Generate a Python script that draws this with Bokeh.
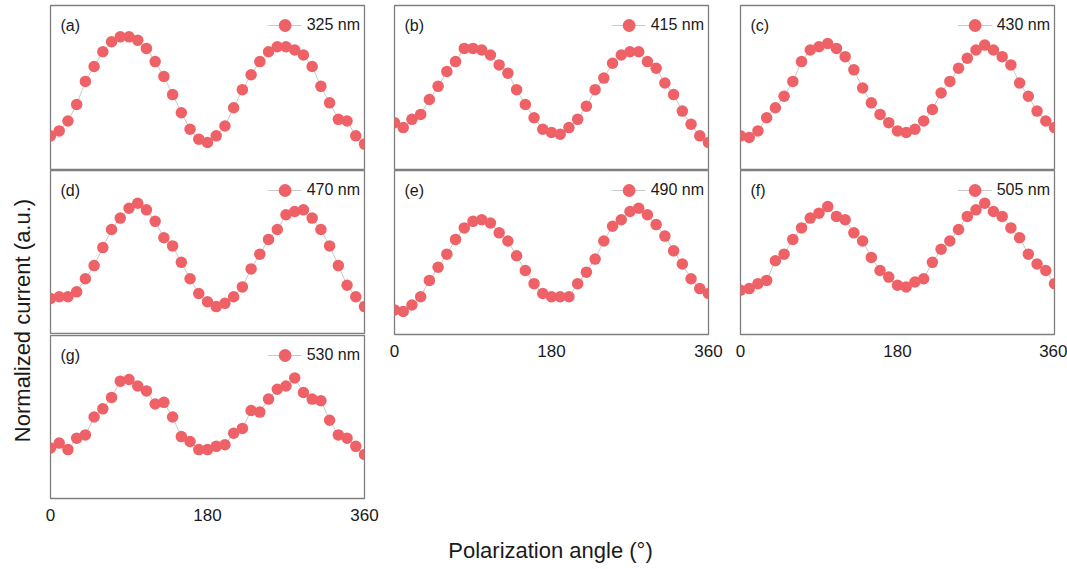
import math

from bokeh.embed import file_html
from bokeh.layouts import column, row
from bokeh.models import FixedTicker, Label, Legend, LegendItem, Range1d
from bokeh.plotting import figure
from bokeh.resources import INLINE

# Polarization angle (degrees), one sample every 10 degrees
angles = list(range(0, 361, 10))

# Normalized photocurrent for each excitation wavelength
i_325 = [0.21, 0.24, 0.30, 0.40, 0.54, 0.63, 0.72, 0.78, 0.81, 0.81, 0.79, 0.74, 0.66,
         0.57, 0.46, 0.35, 0.25, 0.19, 0.17, 0.21, 0.27, 0.38, 0.49, 0.58, 0.66, 0.72,
         0.75, 0.75, 0.73, 0.70, 0.63, 0.51, 0.41, 0.31, 0.30, 0.21, 0.16]
i_415 = [0.29, 0.26, 0.31, 0.34, 0.43, 0.51, 0.60, 0.66, 0.74, 0.74, 0.73, 0.70, 0.64,
         0.59, 0.49, 0.40, 0.32, 0.25, 0.23, 0.22, 0.26, 0.31, 0.39, 0.49, 0.56, 0.65,
         0.70, 0.72, 0.72, 0.66, 0.62, 0.53, 0.46, 0.36, 0.28, 0.21, 0.17]
i_430 = [0.21, 0.20, 0.24, 0.32, 0.38, 0.45, 0.54, 0.66, 0.73, 0.75, 0.77, 0.74, 0.69,
         0.61, 0.50, 0.41, 0.34, 0.29, 0.24, 0.23, 0.25, 0.30, 0.37, 0.47, 0.54, 0.62,
         0.68, 0.73, 0.76, 0.73, 0.69, 0.64, 0.53, 0.45, 0.36, 0.30, 0.26]
i_470 = [0.22, 0.23, 0.23, 0.26, 0.34, 0.42, 0.53, 0.64, 0.71, 0.77, 0.80, 0.76, 0.69,
         0.59, 0.54, 0.44, 0.34, 0.25, 0.20, 0.17, 0.19, 0.23, 0.29, 0.40, 0.49, 0.58,
         0.64, 0.73, 0.75, 0.76, 0.71, 0.64, 0.54, 0.42, 0.30, 0.23, 0.17]
i_490 = [0.15, 0.14, 0.18, 0.23, 0.33, 0.41, 0.49, 0.58, 0.65, 0.69, 0.70, 0.68, 0.62,
         0.57, 0.48, 0.39, 0.31, 0.25, 0.23, 0.23, 0.23, 0.31, 0.38, 0.46, 0.57, 0.66,
         0.70, 0.75, 0.77, 0.73, 0.67, 0.60, 0.51, 0.43, 0.34, 0.28, 0.25]
i_505 = [0.27, 0.28, 0.31, 0.33, 0.45, 0.49, 0.58, 0.65, 0.71, 0.74, 0.78, 0.72, 0.70,
         0.62, 0.57, 0.47, 0.39, 0.35, 0.30, 0.29, 0.32, 0.34, 0.44, 0.52, 0.57, 0.64,
         0.72, 0.76, 0.80, 0.75, 0.72, 0.65, 0.59, 0.49, 0.43, 0.39, 0.31]
i_530 = [0.31, 0.34, 0.30, 0.37, 0.39, 0.50, 0.55, 0.62, 0.72, 0.73, 0.69, 0.66, 0.58,
         0.59, 0.50, 0.38, 0.35, 0.30, 0.30, 0.32, 0.33, 0.40, 0.43, 0.54, 0.53, 0.61,
         0.67, 0.69, 0.74, 0.65, 0.61, 0.60, 0.48, 0.39, 0.37, 0.32, 0.27]

panel_tags = ["(a)", "(b)", "(c)", "(d)", "(e)", "(f)", "(g)"]
wavelengths = ["325 nm", "415 nm", "430 nm", "470 nm", "490 nm", "505 nm", "530 nm"]
series = [i_325, i_415, i_430, i_470, i_490, i_505, i_530]
x_ticks = [0, 180, 360]

FONT = "Liberation Sans"
DOT = "#EE6267"
TRACE = "#c8c8c8"
FRAME = "#7f7f7f"
INK = "#1a1a1a"


def panel(k, left, right, top, fh, with_axis):
    p = figure(
        frame_width=314, frame_height=fh,
        min_border_left=left, min_border_right=right,
        min_border_top=top, min_border_bottom=32 if with_axis else 0,
        x_range=Range1d(0, 360), y_range=Range1d(0, 1),
        x_axis_location="below" if with_axis else None, y_axis_location=None,
        toolbar_location=None, output_backend="svg",
    )
    p.grid.visible = False
    p.outline_line_color = FRAME
    p.outline_line_width = 1.3
    p.background_fill_color = "white"
    p.border_fill_color = "white"

    if with_axis:
        ax = p.xaxis[0]
        ax.ticker = FixedTicker(ticks=x_ticks)
        ax.axis_line_color = None
        ax.major_tick_line_color = None
        ax.minor_tick_line_color = None
        ax.major_tick_out = 0
        ax.major_label_standoff = 10
        ax.major_label_text_font = FONT
        ax.major_label_text_font_size = "17px"
        ax.major_label_text_color = INK

    ln = p.line(angles, series[k], line_color=TRACE, line_width=1)
    sc = p.scatter(angles, series[k], size=11.5, fill_color=DOT, line_color=None)

    legend = Legend(
        items=[LegendItem(label=wavelengths[k], renderers=[ln, sc])],
        location="top_right", border_line_color=None, background_fill_alpha=0,
        label_text_font=FONT, label_text_font_size="16px", label_text_color=INK,
        glyph_width=34, glyph_height=32, label_standoff=5, margin=4, padding=3,
    )
    p.add_layout(legend)

    p.add_layout(Label(
        x=11.5, y=1 - 19.5 / fh, text=panel_tags[k],
        text_font=FONT, text_font_size="16px", text_color=INK,
        text_baseline="middle", text_align="left",
    ))
    return p


def blank(w, h):
    f = figure(
        width=w, height=h, x_range=Range1d(0, w), y_range=Range1d(0, h),
        min_border=0, x_axis_location=None, y_axis_location=None,
        toolbar_location=None, output_backend="svg",
    )
    f.grid.visible = False
    f.outline_line_color = None
    return f


# Columns of panels
pa = panel(0, 10, 16, 5, 165, False)
pd = panel(3, 10, 16, 0, 164, False)
pg = panel(6, 10, 16, 1, 163, True)

pb = panel(1, 14, 17, 5, 165, False)
pe = panel(4, 14, 17, 0, 164, True)

pc = panel(2, 15, 13, 5, 165, False)
pf = panel(5, 15, 13, 0, 164, True)

# Shared axis titles
ylab = blank(40, 569)
ylab.add_layout(Label(
    x=22, y=249, text="Normalized current (a.u.)", angle=math.pi / 2,
    text_font=FONT, text_font_size="22px", text_color=INK,
    text_align="center", text_baseline="middle",
))

xlab = blank(1027, 39)
xlab.add_layout(Label(
    x=510, y=19, text="Polarization angle (\u00b0)",
    text_font=FONT, text_font_size="22px", text_color=INK,
    text_align="center", text_baseline="middle",
))

grid = row(
    column(pa, pd, pg, spacing=0),
    column(pb, pe, spacing=0),
    column(pc, pf, spacing=0),
    spacing=0,
)
layout = row(ylab, column(grid, xlab, spacing=0), spacing=0)

open("out.html", "w").write(file_html(layout, INLINE))
